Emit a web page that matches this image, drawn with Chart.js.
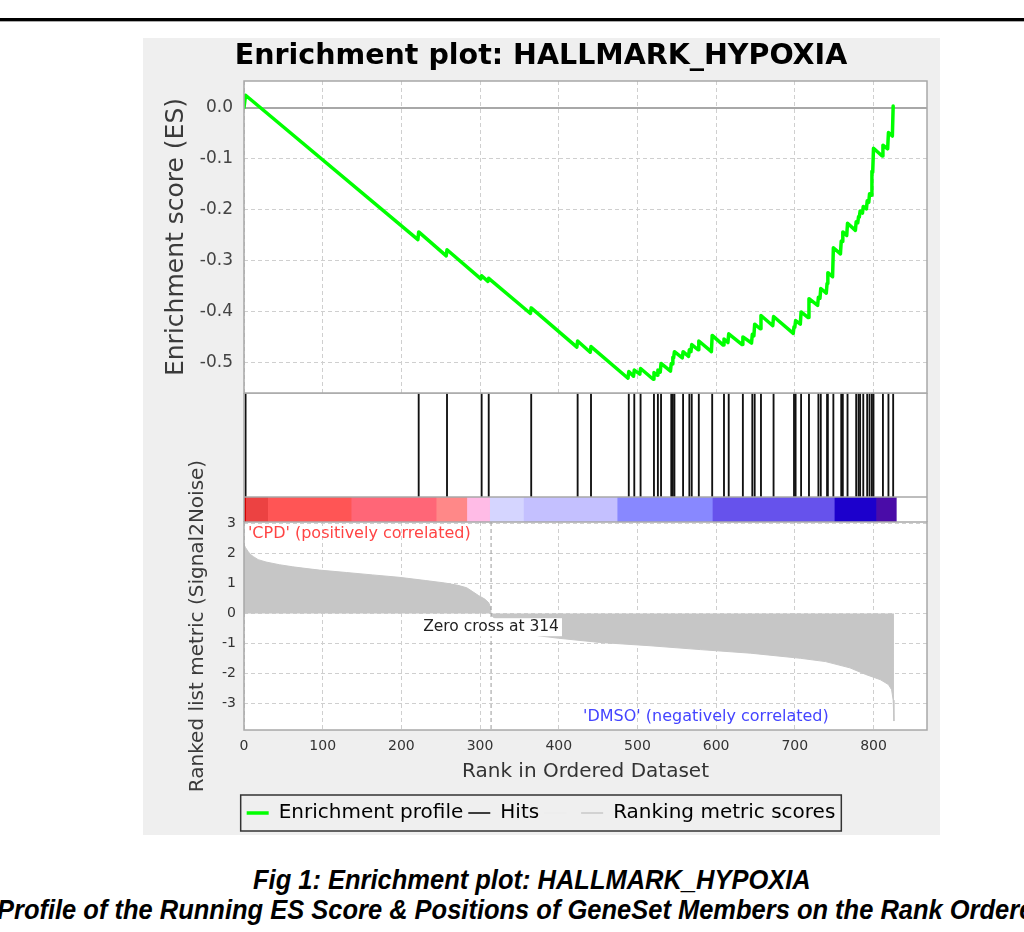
<!DOCTYPE html>
<html lang="en">
<head>
<meta charset="UTF-8">
<title>Enrichment plot: HALLMARK_HYPOXIA</title>
<script src="https://cdn.jsdelivr.net/npm/chart.js"></script>
<style>
  html, body { margin: 0; padding: 0; background: #fff; }
  body { position: relative; width: 1024px; height: 932px; overflow: hidden; font-family: 'DejaVu Sans', sans-serif; }
  .rule { position: absolute; left: 0; top: 18px; width: 1024px; height: 3px; background: #000; border-bottom: 1px solid #aaa; }
  #panel { position: absolute; left: 143px; top: 38px; width: 797px; height: 797px; background: #efefef; }
  #panel canvas { position: absolute; left: 0; }
  .cap { position: absolute; white-space: nowrap; font-family: 'Liberation Sans Narrow', 'Liberation Sans', sans-serif;
         font-weight: bold; font-style: italic; font-size: 28px; line-height: 30px; color: #000;
         transform: scaleX(0.91); transform-origin: left center; }
</style>
</head>
<body>
<div class="rule"></div>
<div id="panel">
  <canvas id="metric" width="797" height="380" style="top:417px"></canvas>
  <canvas id="bar" width="797" height="25" style="top:459px"></canvas>
  <canvas id="hits" width="797" height="104" style="top:355px"></canvas>
  <canvas id="es" width="797" height="356" style="top:0"></canvas>
</div>
<div class="cap" style="left:253px; top:865px">Fig 1: Enrichment plot: HALLMARK_HYPOXIA</div>
<div class="cap" style="left:-3px; top:895px">Profile of the Running ES Score &amp; Positions of GeneSet Members on the Rank Ordered List</div>

<script>
// ---- data ----
const X_MAX = 868;
const X_TICKS = [0, 100, 200, 300, 400, 500, 600, 700, 800];
const ES_TICKS = [0, -0.1, -0.2, -0.3, -0.4, -0.5];
const METRIC_TICKS = [3, 2, 1, 0, -1, -2, -3];

// running enrichment score, [rank, ES] at each corner of the curve
const ES_POINTS = [
  [0, 0.0], [2, 0.024],
  [221, -0.259], [222, -0.244], [257, -0.291], [258, -0.279],
  [301, -0.336], [302, -0.330], [310, -0.341], [311, -0.335],
  [364, -0.404], [365, -0.393], [423, -0.470], [424, -0.458],
  [440, -0.480], [441, -0.469], [488, -0.531], [489, -0.518],
  [495, -0.527], [496, -0.515], [503, -0.523], [504, -0.512],
  [520, -0.533], [521, -0.520], [525, -0.525], [526, -0.515],
  [529, -0.519], [530, -0.502], [542, -0.517], [543, -0.502],
  [544, -0.503], [545, -0.490], [546, -0.491], [547, -0.479],
  [557, -0.491], [558, -0.479], [565, -0.488], [566, -0.475],
  [568, -0.479], [569, -0.465], [577, -0.475], [578, -0.458],
  [594, -0.479], [595, -0.447], [609, -0.466], [610, -0.454],
  [615, -0.461], [616, -0.444], [633, -0.465], [634, -0.450],
  [645, -0.462], [646, -0.445], [648, -0.448], [649, -0.425],
  [656, -0.434], [657, -0.408], [672, -0.428], [673, -0.410],
  [698, -0.443], [699, -0.430], [700, -0.431], [701, -0.418],
  [707, -0.425], [708, -0.401], [717, -0.412], [718, -0.375],
  [729, -0.388], [730, -0.372], [732, -0.374], [733, -0.355],
  [740, -0.364], [741, -0.345], [742, -0.324], [748, -0.332],
  [749, -0.275], [758, -0.287], [759, -0.262], [760, -0.263],
  [761, -0.244], [766, -0.251], [767, -0.227], [777, -0.241],
  [778, -0.224], [780, -0.226], [781, -0.214], [782, -0.215],
  [783, -0.203], [786, -0.207], [787, -0.194], [791, -0.199],
  [792, -0.183], [794, -0.186], [795, -0.169], [797, -0.172],
  [798, -0.125], [799, -0.127], [800, -0.080], [811, -0.095],
  [812, -0.074], [818, -0.081], [819, -0.049], [824, -0.056],
  [825, 0.003]
];

// positions of the gene set members in the ranked list
const HIT_RANKS = [2, 222, 258, 302, 311, 365, 424, 441, 489, 496, 504, 521, 526, 530,
  543, 545, 547, 558, 566, 569, 578, 595, 610, 616, 634, 646, 649, 657, 673, 699, 701,
  708, 718, 730, 733, 741, 742, 749, 759, 761, 767, 778, 781, 783, 787, 792, 795, 798,
  800, 812, 819, 825];

// ranked list metric (Signal2Noise), [rank, value]
const METRIC_POINTS = [
  [0, 2.3], [2, 2.2], [5, 2.08], [8, 1.98], [12, 1.9], [18, 1.8], [28, 1.72],
  [45, 1.63], [62, 1.56], [80, 1.5], [96, 1.45], [130, 1.37], [163, 1.29],
  [197, 1.21], [231, 1.1], [255, 1.02], [272, 0.94], [283, 0.86], [290, 0.74],
  [298, 0.6], [306, 0.48], [311, 0.36], [313, 0.22], [314, 0], [315, -0.08],
  [330, -0.42], [350, -0.62], [375, -0.75], [400, -0.83], [452, -0.97],
  [516, -1.08], [580, -1.21], [644, -1.33], [707, -1.5], [739, -1.61],
  [770, -1.82], [790, -2.04], [809, -2.22], [819, -2.38], [823, -2.55],
  [825, -2.9], [826, -3.6]
];
const ZERO_CROSS = 314;

// heat map strip under the hits: block edges (ranks) and block colours
const STRIP_EDGES = [0, 3, 31, 137, 245, 284, 313, 356, 475, 596, 751, 804, 829];
const STRIP_COLORS = ['#d40000', '#ec4242', '#ff5555', '#ff6677', '#ff8888', '#ffbbe6',
  '#d5d5ff', '#c4c0ff', '#8888ff', '#6652ec', '#1c00cc', '#4a0ca8'];

const LEGEND_TEXT = ['Enrichment profile', 'Hits', '', 'Ranking metric scores'];
const LEGEND_COLORS = ['#00ff00', '#000000', '#ececec', '#c8c8c8'];
const LEGEND_WIDTHS = [3.5, 1.5, 1.5, 1.5];

// ---- shared bits ----
Chart.defaults.font.family = "'DejaVu Sans', sans-serif";
Chart.defaults.color = '#333';
Chart.defaults.animation = false;

const GRID = '#cfcfcf';
const LEFT_W = 101;   // width of the y axis column
const RIGHT_PAD = 13;

// white plot background and grey outline
const plotFrame = {
  id: 'plotFrame',
  beforeDraw(chart) {
    const {ctx, chartArea: a} = chart;
    ctx.save();
    ctx.fillStyle = '#fff';
    ctx.fillRect(a.left, a.top, a.width, a.height);
    ctx.restore();
  },
  afterDraw(chart) {
    const {ctx, chartArea: a} = chart;
    ctx.save();
    ctx.strokeStyle = '#a8a8a8';
    ctx.lineWidth = 1.5;
    ctx.strokeRect(a.left, a.top, a.width, a.height);
    ctx.restore();
  }
};

// title and legend are centred on the whole panel, not the padded box
const recentre = {
  id: 'recentre',
  afterLayout(chart) {
    [chart.titleBlock, chart.legend].forEach(b => {
      if (b) { b.left += 6; b.right += 6; }
    });
  }
};

const xLinear = (extra) => Object.assign({
  type: 'linear', min: 0, max: X_MAX, offset: false,
  afterBuildTicks: s => { s.ticks = X_TICKS.map(v => ({value: v})); },
  grid: {color: GRID, drawTicks: false},
  border: {display: false, dash: [4, 3]}
}, extra);

const fixedY = (scale) => { scale.width = LEFT_W; scale.paddingTop = 0; scale.paddingBottom = 0; };

// ---- enrichment score ----
new Chart(document.getElementById('es'), {
  type: 'line',
  data: {
    datasets: [{
      data: ES_POINTS,
      borderColor: '#00ff00',
      borderWidth: 3.5,
      borderCapStyle: 'round',
      borderJoinStyle: 'round',
      pointRadius: 0,
      tension: 0
    }]
  },
  options: {
    responsive: false,
    layout: {padding: {left: 0, right: RIGHT_PAD, top: 0, bottom: 1}},
    scales: {
      x: xLinear({
        ticks: {display: false},
        afterFit: s => { s.height = 0; s.paddingLeft = 0; s.paddingRight = 0; }
      }),
      y: {
        type: 'linear', min: -0.56, max: 0.052,
        afterBuildTicks: s => { s.ticks = ES_TICKS.map(v => ({value: v})); },
        afterFit: fixedY,
        ticks: {
          font: {size: 17}, color: '#444', padding: 11,
          callback: v => v.toFixed(1)
        },
        grid: {
          drawTicks: false,
          color: c => (c.tick && c.tick.value === 0) ? '#a8a8a8' : GRID,
          lineWidth: c => (c.tick && c.tick.value === 0) ? 2 : 1
        },
        border: {display: false, dash: c => (c.tick && c.tick.value === 0) ? [] : [4, 3]},
        title: {
          display: true, text: 'Enrichment score (ES)',
          font: {size: 25}, color: '#3a3a3a', padding: {top: 18, bottom: 0}
        }
      }
    },
    plugins: {
      legend: {display: false},
      tooltip: {enabled: false},
      title: {
        display: true, text: 'Enrichment plot: HALLMARK_HYPOXIA',
        font: {size: 28.5, weight: 'bold'}, color: '#000',
        padding: {top: 1.9, bottom: 6.9}
      }
    }
  },
  plugins: [plotFrame, recentre]
});

// ---- hits ----
new Chart(document.getElementById('hits'), {
  type: 'bar',
  data: {
    datasets: [{
      data: HIT_RANKS.map(r => ({x: r, y: 1})),
      backgroundColor: '#111',
      barThickness: 1.2
    }]
  },
  options: {
    responsive: false,
    layout: {padding: {left: LEFT_W, right: RIGHT_PAD, top: 0, bottom: 0}},
    scales: {
      x: {type: 'linear', min: 0, max: X_MAX, offset: false, display: false},
      y: {type: 'linear', min: 0, max: 1, display: false}
    },
    plugins: {legend: {display: false}, tooltip: {enabled: false}}
  },
  plugins: [plotFrame]
});

// ---- colour strip ----
new Chart(document.getElementById('bar'), {
  type: 'bar',
  data: {
    labels: ['strip'],
    datasets: [{
      data: STRIP_COLORS.map((c, i) => ({x: [STRIP_EDGES[i], STRIP_EDGES[i + 1]], y: 'strip'})),
      backgroundColor: STRIP_COLORS,
      grouped: false, barPercentage: 1, categoryPercentage: 1, borderWidth: 0
    }, {
      // faint trace of the hits across the strip
      data: HIT_RANKS.map(r => ({x: [r - 0.4, r + 0.4], y: 'strip'})),
      backgroundColor: 'rgba(0,0,0,0.16)',
      grouped: false, barPercentage: 1, categoryPercentage: 1, borderWidth: 0
    }]
  },
  options: {
    responsive: false,
    indexAxis: 'y',
    layout: {padding: {left: LEFT_W, right: RIGHT_PAD, top: 0, bottom: 0}},
    scales: {
      x: {type: 'linear', min: 0, max: X_MAX, offset: false, display: false},
      y: {type: 'category', display: false}
    },
    plugins: {legend: {display: false}, tooltip: {enabled: false}}
  },
  plugins: [plotFrame]
});

// ---- ranked list metric ----
const NOTES = {
  pos: {text: "'CPD' (positively correlated)", x: 5, y: 2.68, color: '#ff4444', align: 'left'},
  neg: {text: "'DMSO' (negatively correlated)", x: 587, y: -3.45, color: '#4444ff', align: 'center'},
  zero: {text: 'Zero cross at ' + ZERO_CROSS, x: ZERO_CROSS, y: -0.46, color: '#222'}
};

const metricNotes = {
  id: 'metricNotes',
  afterDatasetsDraw(chart) {
    const {ctx, chartArea: a, scales: {x, y}} = chart;
    ctx.save();
    // zero cross marker
    const zx = x.getPixelForValue(ZERO_CROSS);
    ctx.strokeStyle = '#9a9a9a';
    ctx.lineWidth = 1;
    ctx.setLineDash([4, 3]);
    ctx.beginPath();
    ctx.moveTo(zx, a.top);
    ctx.lineTo(zx, a.bottom);
    ctx.stroke();
    ctx.setLineDash([]);

    ctx.textBaseline = 'middle';
    ctx.font = "15.5px 'DejaVu Sans', sans-serif";
    const z = NOTES.zero;
    const w = ctx.measureText(z.text).width;
    const zy = y.getPixelForValue(z.y);
    ctx.fillStyle = '#fff';
    ctx.fillRect(x.getPixelForValue(z.x) - w / 2 - 3, zy - 9, w + 6, 18);
    ctx.fillStyle = z.color;
    ctx.textAlign = 'center';
    ctx.fillText(z.text, x.getPixelForValue(z.x), zy);

    ctx.font = "16px 'DejaVu Sans', sans-serif";
    [NOTES.pos, NOTES.neg].forEach(n => {
      ctx.fillStyle = n.color;
      ctx.textAlign = n.align;
      ctx.fillText(n.text, x.getPixelForValue(n.x), y.getPixelForValue(n.y));
    });
    ctx.restore();
  }
};

const legendBox = {
  id: 'legendBox',
  afterDraw(chart) {
    const boxes = chart.legend && chart.legend.legendHitBoxes;
    if (!boxes || !boxes.length) return;
    const l = Math.min(...boxes.map(b => b.left)) - 6;
    const r = Math.max(...boxes.map(b => b.left + b.width)) + 6;
    const t = Math.min(...boxes.map(b => b.top)) - 8;
    const btm = Math.max(...boxes.map(b => b.top + b.height)) + 8;
    const ctx = chart.ctx;
    ctx.save();
    ctx.strokeStyle = '#333';
    ctx.lineWidth = 1.5;
    ctx.strokeRect(l, t, r - l, btm - t);
    ctx.restore();
  }
};

new Chart(document.getElementById('metric'), {
  type: 'line',
  data: {
    datasets: [{
      data: METRIC_POINTS,
      borderColor: '#c6c6c6',
      backgroundColor: '#c6c6c6',
      borderWidth: 1,
      pointRadius: 0,
      tension: 0,
      fill: 'origin'
    }]
  },
  options: {
    responsive: false,
    layout: {padding: {left: 0, right: RIGHT_PAD, top: 67, bottom: 2}},
    scales: {
      x: xLinear({
        ticks: {font: {size: 14}, color: '#333', padding: 8},
        afterFit: s => { s.height = 68; s.paddingLeft = 0; s.paddingRight = 0; },
        title: {
          display: true, text: 'Rank in Ordered Dataset',
          font: {size: 20}, color: '#333', padding: {top: 4, bottom: 14}
        }
      }),
      y: {
        type: 'linear', min: -3.9, max: 3.06,
        afterBuildTicks: s => { s.ticks = METRIC_TICKS.map(v => ({value: v})); },
        afterFit: fixedY,
        ticks: {font: {size: 14}, color: '#333', padding: 8},
        grid: {color: GRID, drawTicks: false},
        border: {display: false, dash: [4, 3]},
        title: {
          display: true, text: 'Ranked list metric (Signal2Noise)',
          font: {size: 20}, color: '#3a3a3a', padding: {top: 43, bottom: 0}
        }
      }
    },
    plugins: {
      tooltip: {enabled: false},
      legend: {
        display: true,
        position: 'bottom',
        onClick: null,
        labels: {
          usePointStyle: true,
          pointStyleWidth: 22,
          padding: 5,
          font: {size: 20},
          color: '#222',
          generateLabels: () => LEGEND_TEXT.map((t, i) => ({
            text: t,
            strokeStyle: LEGEND_COLORS[i],
            fillStyle: LEGEND_COLORS[i],
            lineWidth: LEGEND_WIDTHS[i],
            pointStyle: 'line',
            hidden: false,
            datasetIndex: 0
          }))
        }
      }
    }
  },
  plugins: [plotFrame, metricNotes, legendBox, recentre]
});
</script>
</body>
</html>
